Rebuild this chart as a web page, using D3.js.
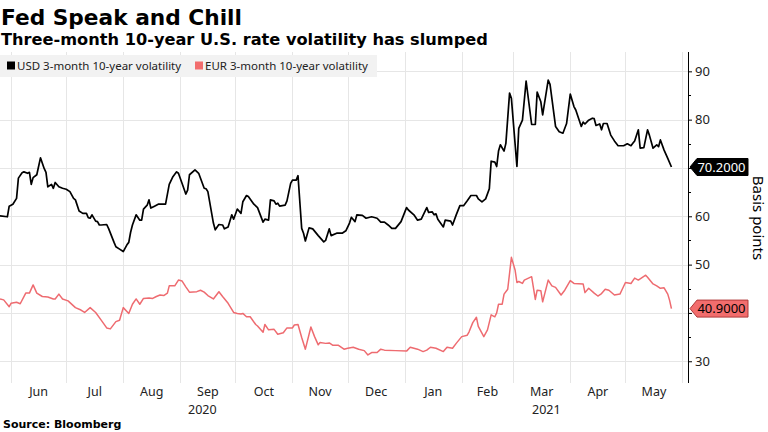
<!DOCTYPE html>
<html>
<head>
<meta charset="utf-8">
<script src="https://cdn.jsdelivr.net/npm/d3@7"></script>
<style>
  html, body { margin: 0; padding: 0; background: #fff; }
  svg { display: block; }
</style>
</head>
<body>
<svg id="chart" width="768" height="432"></svg>
<script>
// ---- DATA (day offset from 2020-05-26, value in basis points) ----
const START_DATE = "2020-05-26";
const END_DATE = "2021-06-04";

const usdSeries = [
[0,60.1],[4,59.9],[5,62.1],[7,62.5],[9,63.7],[10,67.9],[12,69.0],[13,69.2],[15,68.9],[16,69.1],
[17,66.6],[18,68.0],[20,68.6],[22,72.1],[24,69.9],[25,69.1],[26,66.1],[28,66.6],[29,65.8],[30,67.0],
[32,66.1],[34,65.8],[36,65.6],[38,65.1],[40,63.7],[41,63.4],[43,61.1],[45,60.6],[47,60.6],[48,59.7],
[49,59.6],[50,60.3],[52,59.0],[53,58.9],[54,58.2],[55,58.2],[58,58.3],[59,57.5],[62,54.6],[63,53.7],
[65,53.2],[67,52.7],[69,54.1],[70,54.6],[71,56.7],[72,58.2],[74,60.3],[76,59.2],[77,59.2],[78,61.5],
[80,62.3],[81,63.4],[82,61.7],[84,62.1],[86,62.5],[90,62.5],[92,66.6],[94,68.2],[96,69.2],[97,68.9],
[99,66.8],[101,64.6],[102,65.4],[103,68.6],[106,69.6],[108,68.9],[111,65.8],[112,65.7],[113,65.1],[116,58.6],
[117,57.2],[119,58.3],[121,58.2],[122,57.4],[124,57.8],[126,60.3],[127,59.4],[129,61.5],[131,60.6],[132,63.0],
[134,64.3],[135,64.1],[138,62.5],[140,61.8],[143,58.8],[144,59.4],[146,59.2],[147,63.4],[149,63.2],[150,62.5],
[151,62.7],[152,62.1],[155,62.3],[156,63.2],[158,66.8],[159,67.5],[161,67.5],[162,68.4],[164,57.5],[165,56.5],
[166,54.9],[168,57.6],[170,57.4],[173,56.0],[176,54.7],[177,55.0],[179,57.4],[180,56.0],[183,56.5],[186,56.5],
[188,57.0],[190,58.6],[191,59.8],[193,58.9],[194,60.3],[197,60.2],[199,59.6],[202,59.9],[205,59.6],[207,58.8],
[209,58.8],[211,58.2],[213,57.5],[215,57.5],[218,58.9],[221,61.8],[222,61.3],[225,60.3],[227,59.2],[229,59.4],
[232,61.8],[233,60.8],[235,60.9],[236,60.3],[237,60.5],[238,59.4],[241,57.8],[242,59.2],[245,59.0],[246,58.2],
[248,60.3],[250,62.2],[252,62.2],[254,63.2],[256,64.3],[259,64.3],[260,63.6],[262,63.0],[264,63.6],[266,65.7],
[267,71.4],[269,71.2],[270,70.3],[271,73.5],[272,74.8],[274,73.5],[275,75.1],[277,85.5],[278,84.4],[281,70.3],
[282,78.2],[284,79.9],[286,88.0],[289,79.0],[291,79.0],[292,85.7],[294,83.7],[295,81.0],[298,88.2],[299,87.3],
[302,78.6],[304,77.5],[306,77.2],[308,79.2],[310,85.3],[312,82.7],[313,82.0],[316,78.6],[317,79.5],[318,79.1],
[320,79.9],[322,80.3],[323,80.2],[324,78.8],[326,79.1],[327,77.9],[328,79.2],[330,79.2],[332,76.8],[334,75.6],
[336,74.6],[339,74.6],[341,75.0],[343,74.6],[344,75.1],[345,75.6],[347,77.9],[348,74.1],[350,74.2],[352,77.9],
[353,76.8],[355,74.1],[357,74.8],[358,74.4],[359,75.8],[361,73.7],[363,72.0],[365,70.2]
];

const eurSeries = [
[0,42.9],[2,42.7],[5,41.3],[6,42.0],[9,42.2],[11,41.9],[14,44.1],[16,44.1],[18,45.8],[20,44.1],
[23,43.4],[26,43.3],[29,42.9],[30,42.9],[32,43.9],[34,42.9],[37,42.5],[41,41.1],[44,40.6],[46,40.1],
[49,41.1],[52,40.1],[55,38.5],[58,36.9],[60,36.7],[63,38.2],[65,38.5],[67,41.1],[70,39.9],[72,41.8],
[74,42.9],[76,41.8],[78,43.0],[81,43.1],[83,43.0],[85,43.4],[87,43.7],[89,43.6],[91,44.1],[92,45.6],
[95,45.6],[97,46.8],[99,46.6],[101,45.4],[103,44.3],[107,44.4],[109,44.7],[111,44.3],[113,43.6],[116,42.9],
[119,44.4],[121,43.4],[124,42.0],[127,40.1],[129,39.9],[131,39.8],[132,39.9],[134,39.2],[136,39.2],[139,37.6],
[140,37.3],[143,36.0],[144,37.6],[146,36.5],[149,36.6],[151,35.6],[154,35.9],[156,36.9],[159,36.9],[160,37.5],
[162,37.6],[164,34.9],[166,32.5],[169,37.1],[171,35.1],[173,33.4],[174,33.9],[177,33.7],[179,33.8],[181,33.3],
[184,33.3],[187,32.5],[189,32.7],[192,32.9],[195,32.5],[198,32.2],[200,31.3],[202,31.8],[205,31.8],[207,32.5],
[209,32.3],[215,32.2],[221,32.1],[223,32.9],[227,32.5],[230,32.0],[232,32.3],[234,32.9],[237,32.7],[241,32.0],
[243,32.9],[246,32.7],[248,33.7],[251,35.1],[254,35.4],[255,36.1],[257,38.0],[259,39.1],[260,37.2],[263,35.1],
[265,36.5],[267,39.6],[269,39.2],[270,40.0],[271,41.8],[273,41.8],[274,43.9],[276,44.9],[278,51.5],[280,48.9],
[281,46.3],[282,46.5],[284,46.1],[285,46.8],[289,47.5],[291,42.8],[292,44.7],[294,44.6],[295,42.3],[298,46.8],
[300,45.6],[302,45.3],[305,43.7],[307,44.7],[310,46.7],[312,46.1],[317,46.0],[318,44.2],[320,45.1],[323,44.1],
[325,43.5],[327,44.0],[329,44.9],[331,44.7],[334,43.7],[337,43.9],[338,44.7],[340,46.3],[343,46.1],[345,47.2],
[347,46.8],[351,47.8],[352,47.4],[355,46.0],[357,45.6],[359,45.1],[361,45.2],[363,43.9],[364,42.6],[365,40.9]
];

const yTickValues = [30, 40, 50, 60, 70, 80, 90];
const yHiddenLabels = [40, 70]; // covered by the last-value tags in the reference
const yMinorTicks = [35, 45, 55, 65, 75, 85];
const monthLabels = ["Jun","Jul","Aug","Sep","Oct","Nov","Dec","Jan","Feb","Mar","Apr","May"];
const yearLabels = ["2020", "2021"];
const seriesNames = ["USD 3-month 10-year volatility", "EUR 3-month 10-year volatility"];
const lastValues = ["70.2000", "40.9000"];
const titleText = "Fed Speak and Chill";
const subtitleText = "Three-month 10-year U.S. rate volatility has slumped";
const sourceText = "Source: Bloomberg";
const axisTitle = "Basis points";

// ---- CHART ----
const svg = d3.select("#chart");
const parse = d3.timeParse("%Y-%m-%d");
const start = parse(START_DATE), end = parse(END_DATE);
const L = 0, R = 688, T = 52, B = 383;

const x = d3.scaleTime().domain([start, end]).range([L, R]);
const y = d3.scaleLinear().domain([25.5, 94]).range([B, T]);

const toPts = s => s.map(([d, v]) => ({ date: d3.timeDay.offset(start, d), v }));
const usd = toPts(usdSeries), eur = toPts(eurSeries);

const fontLabel = "'Noto Sans', 'Open Sans', sans-serif";
const fontBold = "'DejaVu Sans', sans-serif";

// gridlines
const g = svg.append("g");
const monthStarts = d3.timeMonth.range(d3.timeMonth.ceil(start), end);
g.selectAll("line.vg").data(monthStarts).join("line")
  .attr("x1", d => Math.round(x(d)) + 0.5).attr("x2", d => Math.round(x(d)) + 0.5)
  .attr("y1", T).attr("y2", B)
  .attr("stroke", "#e6e6e6").attr("stroke-width", 1);
g.selectAll("line.hg").data(yTickValues).join("line")
  .attr("x1", L).attr("x2", R)
  .attr("y1", d => Math.round(y(d)) + 0.5).attr("y2", d => Math.round(y(d)) + 0.5)
  .attr("stroke", "#e6e6e6").attr("stroke-width", 1);

// legend
const lg = svg.append("g");
lg.append("rect").attr("x", 0).attr("y", 55).attr("width", 377).attr("height", 22).attr("fill", "#f2f2f2");
const legendItems = [
  { name: seriesNames[0], color: "#000", sx: 7, tx: 17 },
  { name: seriesNames[1], color: "#f26d6d", sx: 195, tx: 205 }
];
legendItems.forEach(it => {
  lg.append("rect").attr("x", it.sx).attr("y", 61.5).attr("width", 8).attr("height", 8).attr("fill", it.color);
  lg.append("text").attr("x", it.tx).attr("y", 70).text(it.name)
    .attr("font-family", fontLabel).attr("font-size", 11.5).attr("fill", "#222");
});

// lines
const line = d3.line().x(d => x(d.date)).y(d => y(d.v)).curve(d3.curveLinear);
svg.append("path").datum(eur).attr("d", line).attr("fill", "none")
  .attr("stroke", "#ee6b70").attr("stroke-width", 1.5).attr("stroke-linejoin", "round");
svg.append("path").datum(usd).attr("d", line).attr("fill", "none")
  .attr("stroke", "#000").attr("stroke-width", 1.7).attr("stroke-linejoin", "round");

// right axis
const ya = svg.append("g").attr("transform", `translate(${R},0)`)
  .call(d3.axisRight(y).tickValues(yTickValues).tickSize(4).tickPadding(3));
ya.select(".domain").attr("stroke", "#000").attr("d", `M0.5,${T}V${B}`);
ya.selectAll(".tick line").attr("stroke", "#000");
ya.selectAll(".tick text").attr("font-family", fontLabel).attr("font-size", 13).attr("fill", "#222");
ya.selectAll(".tick").filter(d => yHiddenLabels.includes(d)).select("text").remove();
svg.append("g").selectAll("line").data(yMinorTicks).join("line")
  .attr("x1", R).attr("x2", R + 3)
  .attr("y1", d => Math.round(y(d)) + 0.5).attr("y2", d => Math.round(y(d)) + 0.5)
  .attr("stroke", "#000");

// month labels
const months = monthStarts.filter(d => d3.timeMonth.offset(d, 1) <= end);
svg.append("g").selectAll("text").data(months).join("text")
  .attr("x", d => (x(d) + x(d3.timeMonth.offset(d, 1))) / 2)
  .attr("y", 396).attr("text-anchor", "middle")
  .attr("font-family", fontLabel).attr("font-size", 12.5).attr("fill", "#222")
  .text((d, i) => monthLabels[i]);

// year labels: centered on visible portion of each year
const yearSpans = [
  [start, parse("2021-01-01")],
  [parse("2021-01-01"), end]
];
svg.append("g").selectAll("text").data(yearSpans).join("text")
  .attr("x", d => (x(d[0]) + x(d[1])) / 2)
  .attr("y", 414).attr("text-anchor", "middle")
  .attr("font-family", fontLabel).attr("font-size", 12.5).attr("fill", "#222")
  .text((d, i) => yearLabels[i]);

// value tags
function tag(v, label, fill, stroke, textColor) {
  const cy = y(v), h = 17, tip = R + 2, bl = R + 9, br = 748;
  svg.append("path")
    .attr("d", `M${tip},${cy} L${bl},${cy - h / 2} L${br},${cy - h / 2} L${br},${cy + h / 2} L${bl},${cy + h / 2} Z`)
    .attr("fill", fill).attr("stroke", stroke).attr("stroke-width", 1);
  svg.append("text").attr("x", (bl + br) / 2 - 1).attr("y", cy + 4.5).attr("text-anchor", "middle")
    .attr("font-family", fontLabel).attr("font-size", 13).attr("fill", textColor).text(label);
}
tag(usd[usd.length - 1].v, lastValues[0], "#000", "#000", "#fff");
tag(eur[eur.length - 1].v, lastValues[1], "#f26d6d", "#b03a3a", "#000");

// axis title
svg.append("text").attr("transform", "translate(753,218) rotate(90)")
  .attr("text-anchor", "middle").attr("font-family", fontLabel).attr("font-size", 15).attr("fill", "#000")
  .text(axisTitle);

// titles
svg.append("text").attr("x", 1).attr("y", 25).text(titleText)
  .attr("font-family", fontBold).attr("font-weight", "bold").attr("font-size", 21.7).attr("fill", "#000");
svg.append("text").attr("x", 1).attr("y", 45).text(subtitleText)
  .attr("font-family", fontBold).attr("font-weight", "bold").attr("font-size", 16.2).attr("fill", "#000");
svg.append("text").attr("x", 3).attr("y", 428).text(sourceText)
  .attr("font-family", fontBold).attr("font-weight", "bold").attr("font-size", 11).attr("fill", "#000");
</script>
</body>
</html>
